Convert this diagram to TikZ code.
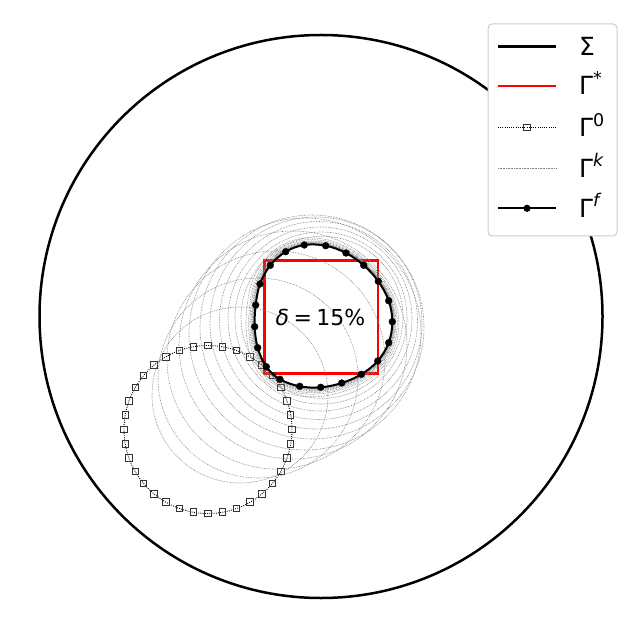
\documentclass[tikz,border=0pt]{standalone}
\usepackage{fontspec}
\setmainfont{DejaVu Sans}
\usetikzlibrary{calc}
\newcommand\gfcurve[1]{\draw[#1] plot[smooth cycle, tension=0.6] coordinates {(-19.2,-70.5) (2.2,-69.8) (22.5,-62.5) (40.2,-50.2) (54.8,-34.2) (65.2,-14.8) (68.8,6.2) (65.2,27.2) (54.2,45.5) (37.8,58.8) (18.2,67.5) (-2.8,71.8) (-23.8,70.8) (-43.5,63.8) (-57.2,51.2) (-65.8,32.2) (-68.8,11.2) (-67.8,-10.5) (-63.5,-31.5) (-53.2,-50.2) (-37.8,-63.8)};}
\newcommand\supx[1]{\raisebox{0.42em}{\fontsize{17.5}{17.5}\selectfont #1}}
\begin{document}
\begin{tikzpicture}[x=1pt,y=-1pt,
  gk/.style={black!50, line width=0.6pt, dash pattern=on 0.7pt off 0.9pt},
  gzero/.style={black, line width=0.9pt, dash pattern=on 0.9pt off 1.3pt},
  sqmark/.style={draw=black!80, line width=1pt, minimum size=6.5pt, inner sep=0pt, rectangle},
  gfline/.style={black, line width=2pt},
  sigmaline/.style={black, line width=2.5pt},
  target/.style={red, line width=2.5pt},
  legtext/.style={font=\fontsize{25}{25}\selectfont, anchor=base west, inner sep=0pt},
  dotmark/.style={mark=*, mark size=3.4pt, mark options={line width=0.4pt, fill=black}}]
\useasboundingbox (0,0) rectangle (642,636);
% Sigma
\coordinate (c) at (321,316.5);
\draw[sigmaline] (c) circle[radius=281.5];
% target square
\node[draw=red, line width=2.5pt, minimum width=113.5pt, minimum height=113pt, inner sep=0pt] (star) at (321,317.2) {};
% Gamma^0
\coordinate (c0) at (208,429.5);
\draw[gzero] (c0) circle[radius=84];
\foreach \a in {0,10,...,350} {\node[sqmark] (m\a) at ($(c0)+(\a:84)$) {};}
% Gamma^k : early iterates
\foreach \cx/\cy/\r in {240/395/88, 258/378/100, 276/360/109, 293/345/114, 305/334/116, 312/327/112, 316/323/106, 318.5/320.5/99, 320/319/92, 321/318/86, 322/317.3/81}
{\draw[gk] (\cx,\cy) circle[radius=\r];}
% Gamma^k : converging iterates
\foreach \cx/\cy/\s in {322.5/316.8/1.11, 323/316.4/1.08, 323/316.3/1.06, 323.2/316.1/1.045, 323.3/316/1.035, 323.4/315.8/1.027, 323.4/315.7/1.02, 323.5/315.6/1.014, 323.5/315.6/1.009, 323.5/315.5/1.005}
{\begin{scope}[shift={(\cx,\cy)}, scale=\s]\gfcurve{gk}\end{scope}}
% Gamma^f
\begin{scope}[shift={(323.5,315.5)}]\gfcurve{gfline, dotmark}\end{scope}
% label
\node[font=\fontsize{22}{22}\selectfont, inner sep=0pt] (delta) at (320.5,317) {\itshape δ\upshape\hspace{0.2em}=\hspace{0.2em}15\%};
% legend
\node[draw=black!20, fill=white, rounded corners=4pt, line width=1pt, minimum width=129pt, minimum height=212pt, inner sep=0pt] (leg) at (552.5,130) {};
\coordinate (l1a) at (498,46.7); \coordinate (l1b) at (556,46.7);
\coordinate (l2a) at (498,86); \coordinate (l2b) at (556,86);
\coordinate (l3a) at (498,127.7); \coordinate (l3b) at (556,127.7);
\coordinate (l4a) at (498,168.3); \coordinate (l4b) at (556,168.3);
\coordinate (l5a) at (498,208.3); \coordinate (l5b) at (556,208.3);
\draw[sigmaline] (l1a) -- (l1b);
\draw[target] (l2a) -- (l2b);
\draw[gzero] (l3a) -- (l3b);
\node[sqmark] (lm3) at ($(l3a)!0.5!(l3b)$) {};
\draw[gk] (l4a) -- (l4b);
\draw[gfline] (l5a) -- (l5b);
\fill (527,208.3) circle[radius=3.6];
\node[legtext] (t1) at (579,55.7) {Σ};
\node[legtext] (t2) at (579,95) {Γ\supx{*}};
\node[legtext] (t3) at (579,136.7) {Γ\supx{0}};
\node[legtext] (t4) at (579,177.3) {Γ\supx{\itshape k}};
\node[legtext] (t5) at (579,217.3) {Γ\supx{\itshape f}};
\end{tikzpicture}
\end{document}
